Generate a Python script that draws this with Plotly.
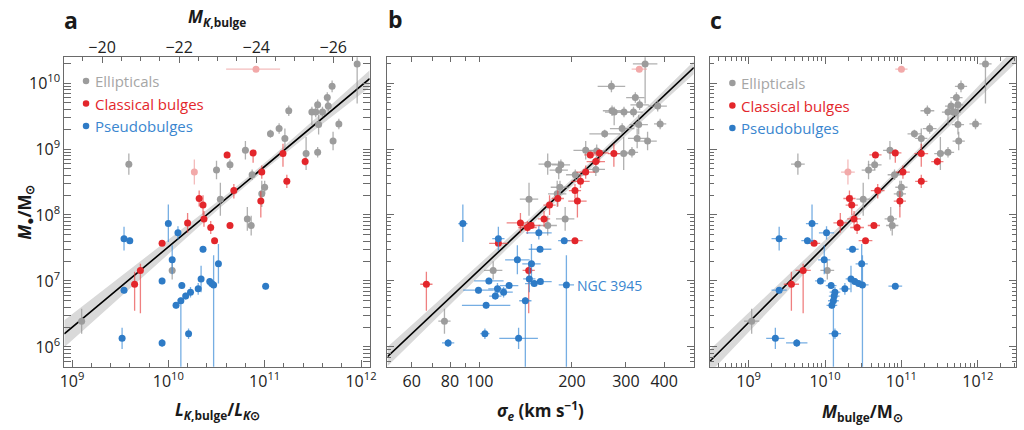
import numpy as np
import plotly.graph_objects as go

nan = float("nan")

# ---------------- data (log10 values) ----------------
# Ellipticals (gray)
ell_logM = [10.29, 9.95, 9.78, 9.67, 9.65, 9.58, 9.56, 9.56, 9.56, 9.37, 9.38, 9.31, 9.23, 9.16, 9.12,
            8.93, 8.95, 8.98, 8.77, 8.76, 8.68, 8.61, 8.42, 8.32, 8.24, 7.94, 7.84, 7.16, 6.39, 8.69, 8.97]
ell_logL = [11.96, 11.70, 11.65, 11.55, 11.66, 11.25, 11.49, 11.53, 11.60, 11.56, 11.77, 11.15, 11.06, 11.21, 11.71,
            11.43, 11.55, 10.80, 9.59, 10.64, 10.50, 10.87, 11.00, 10.97, 10.54, 10.82, 10.86, 10.04, 9.10, nan, nan]
ell_logsig = [2.540, 2.430, 2.508, 2.522, 2.581, 2.432, 2.439, 2.471, 2.502, 2.519, 2.589, 2.465, 2.408, 2.514, 2.548,
              2.470, 2.497, 2.346, 2.222, 2.265, 2.258, 2.312, 2.262, 2.253, 2.161, 2.279, 2.222, 2.044, 1.885, 2.379, 2.382]
ell_logMbul = [12.10, 11.78, 11.72, 11.74, 11.65, 11.34, 11.61, 11.68, 11.71, 11.74, 11.97, 11.37, 11.17, 11.26, 11.75,
               11.51, 11.61, 10.85, 9.645, 10.65, 10.57, 10.91, 11.00, 10.98, 10.50, 10.86, 10.88, 10.03, 9.04, nan, nan]
ell_errM_lo = [0.60, 0.09, 0.08, 0.08, 0.08, 0.08, 0.20, 0.08, 0.08, 0.15, 0.08, 0.08, 0.06, 0.15, 0.14,
               0.25, 0.08, 0.14, 0.16, 0.08, 0.14, 0.08, 0.10, 0.20, 0.25, 0.18, 0.15, 0.14, 0.19, 0.10, 0.10]
ell_errM_hi = [0.12, 0.09, 0.08, 0.08, 0.08, 0.08, 0.08, 0.08, 0.08, 0.15, 0.08, 0.08, 0.06, 0.15, 0.14,
               0.25, 0.08, 0.14, 0.16, 0.08, 0.14, 0.08, 0.10, 0.20, 0.25, 0.18, 0.15, 0.14, 0.19, 0.10, 0.10]
ell_err_sig = [0.04, 0.045, 0.03, 0.03, 0.03, 0.03, 0.03, 0.03, 0.03, 0.03, 0.02, 0.04, 0.05, 0.03, 0.03,
               0.03, 0.02, 0.04, 0.03, 0.03, 0.03, 0.03, 0.03, 0.03, 0.03, 0.03, 0.03, 0.03, 0.02, 0.03, 0.03]
ell_err_Mbul = [0.08, 0.08, 0.08, 0.07, 0.08, 0.09, 0.08, 0.07, 0.07, 0.08, 0.08, 0.09, 0.09, 0.08, 0.08,
                0.08, 0.08, 0.09, 0.09, 0.09, 0.09, 0.09, 0.08, 0.08, 0.09, 0.08, 0.08, 0.09, 0.10, nan, nan]

# Classical bulges (red)
cla_logM = [8.91, 8.94, 8.93, 8.81, 8.65, 8.51, 8.37, 8.25, 8.15, 8.21, 7.94, 7.88, 7.81, 7.84, 7.61, 7.57, 7.16, 6.95]
cla_logL = [10.61, 10.88, 11.19, 11.42, 10.97, 11.23, 10.68, 10.32, 10.36, 10.96, 10.37, 10.20, 10.44, 10.64, 10.48, 9.935, 9.71, 9.65]
cla_logsig = [2.361, 2.391, 2.438, 2.379, 2.346, 2.329, 2.311, 2.255, 2.228, 2.319, 2.210, 2.133, 2.156, 2.168, 2.311, 2.061, 2.160, 1.826]
cla_logMbul = [10.66, 10.92, 11.26, 11.47, 11.02, 11.26, 10.69, 10.32, 10.35, 10.98, 10.38, 10.20, 10.42, 10.64, 10.53, 9.857, 9.714, 9.56]
cla_errM_lo = [0.05, 0.15, 0.20, 0.06, 0.10, 0.10, 0.12, 0.12, 0.15, 0.25, 0.12, 0.15, 0.10, 0.04, 0.04, 0.04, 0.65, 0.40]
cla_errM_hi = [0.05, 0.05, 0.15, 0.06, 0.10, 0.10, 0.10, 0.12, 0.15, 0.15, 0.12, 0.15, 0.10, 0.04, 0.04, 0.04, 0.10, 0.19]
cla_err_sig = [0.02, 0.03, 0.02, 0.03, 0.03, 0.03, 0.02, 0.02, 0.02, 0.03, 0.02, 0.045, 0.03, 0.03, 0.025, 0.03, 0.02, 0.02]
cla_err_Mbul = [0.08, 0.08, 0.09, 0.08, 0.09, 0.08, 0.09, 0.08, 0.08, 0.08, 0.09, 0.09, 0.09, 0.08, 0.09, 0.08, 0.10, 0.10]

# Pseudobulges (blue)
pse_logM = [7.87, 7.73, 7.64, 7.61, 7.48, 7.32, 7.26, 7.00, 7.03, 6.86, 6.93, 6.88, 6.83, 6.77, 6.70, 6.63,
            6.99, 6.96, 6.94, 6.92, 6.20, 6.13, 6.06]
pse_logL = [10.00, 10.10, 9.54, 9.60, 10.36, 10.04, 10.52, 9.935, 10.34, 9.54, 10.14, 10.31, 10.23, 10.18, 10.13, 10.08,
            10.43, 10.45, 10.47, 11.01, 10.21, 9.52, 9.935]
pse_logsig = [1.945, 2.193, 2.061, 2.276, 2.197, 2.123, 2.169, 2.030, 2.162, 1.996, 2.096, 2.058, 2.078, 2.051, 2.149, 2.021,
              2.198, 2.178, 2.283, nan, 2.017, 2.127, 1.897]
pse_logMbul = [9.83, 10.02, 9.40, 9.77, 10.36, 9.99, 10.48, 9.94, 10.34, 9.40, 10.08, 10.26, 10.13, 10.12, 10.11, 10.09,
               10.39, 10.44, 10.49, 10.92, 10.13, 9.35, 9.63]
pse_errM_lo = [0.28, 0.10, 0.18, 0.05, 0.05, 0.22, 0.30, 0.05, 0.20, 0.05, 0.05, 0.09, 0.08, 0.05, 1.50, 0.05,
               0.05, 0.05, 1.50, 0.05, 0.08, 0.16, 0.06]
pse_errM_hi = [0.29, 0.10, 0.18, 0.05, 0.05, 0.22, 0.30, 0.05, 0.20, 0.05, 0.05, 0.09, 0.08, 0.05, 0.05, 0.05,
               0.05, 0.05, 0.45, 0.05, 0.08, 0.16, 0.06]
pse_err_sig = [0.015, 0.042, 0.02, 0.02, 0.037, 0.04, 0.03, 0.048, 0.02, 0.05, 0.03, 0.03, 0.03, 0.02, 0.02, 0.079,
               0.037, 0.03, 0.025, nan, 0.015, 0.063, 0.02]
pse_err_Mbul = [0.08, 0.10, 0.10, 0.08, 0.08, 0.08, 0.08, 0.07, 0.07, 0.10, 0.07, 0.07, 0.07, 0.07, 0.07, 0.07,
                0.07, 0.07, 0.08, 0.09, 0.08, 0.12, 0.14]

# Faded (omitted) objects (pink)
omi_logM = [10.21, 8.65]
omi_logL = [10.91, 10.27]
omi_errL_lo = [0.31, 0.0]
omi_errL_hi = [0.25, 0.0]
omi_logsig = [2.521, nan]
omi_err_sig = [0.025, nan]
omi_logMbul = [11.00, 10.30]
omi_err_Mbul = [0.08, 0.09]
omi_errM = [0.04, 0.19]

# Fits: M/1e9 = A * (x / x_piv)^B   (log10 x_piv)
fit_A = [0.544, 0.309, 0.49]
fit_B = [1.22, 4.38, 1.16]
fit_piv = [11.0, np.log10(200.0), 11.0]
# confidence band half width: sqrt(s0^2 + (k (x - x0))^2)
band_s0 = [0.05, 0.05, 0.05]
band_k = [0.10, 0.22, 0.07]
band_x0 = [10.9, 2.32, 10.9]

# Tick labels
y_tickvals = [1e6, 1e7, 1e8, 1e9, 1e10]
y_ticktext = ["10<sup>6</sup>", "10<sup>7</sup>", "10<sup>8</sup>", "10<sup>9</sup>", "10<sup>10</sup>"]
a_tickvals = [1e9, 1e10, 1e11, 1e12]
a_ticktext = ["10<sup>9</sup>", "10<sup>10</sup>", "10<sup>11</sup>", "10<sup>12</sup>"]
b_tickvals = [60, 80, 100, 200, 300, 400]
b_ticktext = ["60", "80", "100", "200", "300", "400"]
c_tickvals = [1e9, 1e10, 1e11, 1e12]
c_ticktext = ["10<sup>9</sup>", "10<sup>10</sup>", "10<sup>11</sup>", "10<sup>12</sup>"]
mk_tickvals = [-20, -22, -24, -26]
mk_ticktext = ["\u221220", "\u221222", "\u221224", "\u221226"]
MSUN_K = 3.28

# ---------------- figure ----------------
W, H = 1024, 430
FRAME = "#6a6a6a"
FONT = "Open Sans"
GRAY, GRAY_E = "#9c9c9c", "rgba(150,150,150,0.75)"
RED, RED_E = "#e3262b", "rgba(230,60,60,0.65)"
BLUE, BLUE_E = "#2e7bc6", "rgba(60,140,215,0.7)"
PINK, PINK_E = "#f2a9a9", "rgba(240,160,160,0.7)"


def fx(p):
    return p / W


def fy(p):
    return 1 - p / H


Y_RANGE = [5.70, 10.39]
ydom = [fy(366.7), fy(57.3)]
xdoms = [[fx(60), fx(369)], [fx(387), fx(697)], [fx(713), fx(1023)]]
xranges = [[8.92, 12.09], [np.log10(50.0), np.log10(500.0)], [8.49, 12.50]]
axes = [("x", "y"), ("x2", "y2"), ("x3", "y3")]

fig = go.Figure()


def asym(logv, lo, hi):
    logv = np.asarray(logv, float)
    lo = np.asarray(lo, float)
    hi = np.asarray(hi, float)
    v = 10 ** logv
    return v, 10 ** (logv + hi) - v, v - 10 ** (logv - lo)


# bands and fit lines
for i, (xa, ya) in enumerate(axes):
    lx = np.linspace(xranges[i][0], xranges[i][1], 200)
    lm = 9 + np.log10(fit_A[i]) + fit_B[i] * (lx - fit_piv[i])
    hw = np.sqrt(band_s0[i] ** 2 + (band_k[i] * (lx - band_x0[i])) ** 2)
    fig.add_trace(go.Scatter(x=10 ** lx, y=10 ** (lm - hw), mode="lines", line=dict(width=0),
                             xaxis=xa, yaxis=ya, hoverinfo="skip", showlegend=False))
    fig.add_trace(go.Scatter(x=10 ** lx, y=10 ** (lm + hw), mode="lines", line=dict(width=0),
                             fill="tonexty", fillcolor="#d9d9d9",
                             xaxis=xa, yaxis=ya, hoverinfo="skip", showlegend=False))
    fig.add_trace(go.Scatter(x=10 ** lx, y=10 ** lm, mode="lines", line=dict(color="black", width=1.6),
                             xaxis=xa, yaxis=ya, hoverinfo="skip", showlegend=False))


def add_points(logx, ex_lo, ex_hi, show_ex, logy, ey_lo, ey_hi, color, ecolor, xa, ya):
    x, xp, xm = asym(logx, ex_lo, ex_hi)
    y, yp, ym = asym(logy, ey_lo, ey_hi)
    fig.add_trace(go.Scatter(
        x=x, y=y, mode="markers", xaxis=xa, yaxis=ya,
        marker=dict(size=7, color=color, line=dict(width=0)),
        error_x=dict(type="data", symmetric=False, array=xp, arrayminus=xm, color=ecolor,
                     thickness=1.3, width=0, visible=show_ex),
        error_y=dict(type="data", symmetric=False, array=yp, arrayminus=ym, color=ecolor,
                     thickness=1.3, width=0, visible=True),
        hoverinfo="skip", showlegend=False))


zeros_e = [0.0] * len(ell_logM)
zeros_c = [0.0] * len(cla_logM)
zeros_p = [0.0] * len(pse_logM)

# panel a
add_points(ell_logL, zeros_e, zeros_e, False, ell_logM, ell_errM_lo, ell_errM_hi, GRAY, GRAY_E, "x", "y")
add_points(omi_logL, omi_errL_lo, omi_errL_hi, True, omi_logM, omi_errM, omi_errM, PINK, PINK_E, "x", "y")
add_points(cla_logL, zeros_c, zeros_c, False, cla_logM, cla_errM_lo, cla_errM_hi, RED, RED_E, "x", "y")
add_points(pse_logL, zeros_p, zeros_p, False, pse_logM, pse_errM_lo, pse_errM_hi, BLUE, BLUE_E, "x", "y")
# panel b
add_points(ell_logsig, ell_err_sig, ell_err_sig, True, ell_logM, ell_errM_lo, ell_errM_hi, GRAY, GRAY_E, "x2", "y2")
add_points(omi_logsig, omi_err_sig, omi_err_sig, True, omi_logM, omi_errM, omi_errM, PINK, PINK_E, "x2", "y2")
add_points(cla_logsig, cla_err_sig, cla_err_sig, True, cla_logM, cla_errM_lo, cla_errM_hi, RED, RED_E, "x2", "y2")
add_points(pse_logsig, pse_err_sig, pse_err_sig, True, pse_logM, pse_errM_lo, pse_errM_hi, BLUE, BLUE_E, "x2", "y2")
# panel c
add_points(ell_logMbul, ell_err_Mbul, ell_err_Mbul, True, ell_logM, ell_errM_lo, ell_errM_hi, GRAY, GRAY_E, "x3", "y3")
add_points(omi_logMbul, omi_err_Mbul, omi_err_Mbul, True, omi_logM, omi_errM, omi_errM, PINK, PINK_E, "x3", "y3")
add_points(cla_logMbul, cla_err_Mbul, cla_err_Mbul, True, cla_logM, cla_errM_lo, cla_errM_hi, RED, RED_E, "x3", "y3")
add_points(pse_logMbul, pse_err_Mbul, pse_err_Mbul, True, pse_logM, pse_errM_lo, pse_errM_hi, BLUE, BLUE_E, "x3", "y3")

# invisible trace to carry the top magnitude axis
fig.add_trace(go.Scatter(x=[-22], y=[1e8], xaxis="x4", yaxis="y", mode="markers",
                         marker=dict(opacity=0), hoverinfo="skip", showlegend=False))

tickfont = dict(family=FONT, size=16, color="#222222")
base = dict(showline=True, linecolor=FRAME, linewidth=1, ticks="inside", tickcolor=FRAME,
            showgrid=False, zeroline=False, tickfont=tickfont)

y_minor = [m * 10.0 ** d for d in range(5, 11) for m in range(2, 10)]
a_minor = [10 ** (8.8 + 0.2 * k) for k in range(18)]
b_minor = [50, 70, 90, 500]
c_minor = [m * 10.0 ** d for d in range(8, 13) for m in range(2, 10)]
mk_minor = [-19.5 - 0.5 * k for k in range(15)]

minor_style = dict(ticks="inside", ticklen=4, tickcolor=FRAME, showgrid=False, tickmode="array")

layout_axes = {}
for i, (xa, ya) in enumerate(axes):
    yname = "yaxis" if i == 0 else f"yaxis{i + 1}"
    layout_axes[yname] = dict(base, type="log", range=Y_RANGE, domain=ydom, anchor=xa,
                              tickmode="array", tickvals=y_tickvals, ticktext=y_ticktext,
                              ticklen=7, mirror="allticks", showticklabels=(i == 0),
                              minor=dict(minor_style, tickvals=y_minor))

layout_axes["xaxis"] = dict(base, type="log", range=xranges[0], domain=xdoms[0], anchor="y",
                            tickmode="array", tickvals=a_tickvals, ticktext=a_ticktext, ticklen=7,
                            mirror=True, minor=dict(minor_style, tickvals=a_minor))
layout_axes["xaxis2"] = dict(base, type="log", range=xranges[1], domain=xdoms[1], anchor="y2",
                             tickmode="array", tickvals=b_tickvals, ticktext=b_ticktext, ticklen=5,
                             mirror="allticks", minor=dict(minor_style, tickvals=b_minor))
layout_axes["xaxis3"] = dict(base, type="log", range=xranges[2], domain=xdoms[2], anchor="y3",
                             tickmode="array", tickvals=c_tickvals, ticktext=c_ticktext, ticklen=7,
                             mirror="allticks", minor=dict(minor_style, tickvals=c_minor))
layout_axes["xaxis4"] = dict(base, showline=False, overlaying="x", side="top", anchor="y",
                             range=[MSUN_K - 2.5 * xranges[0][0], MSUN_K - 2.5 * xranges[0][1]],
                             tickmode="array", tickvals=mk_tickvals, ticktext=mk_ticktext, ticklen=6,
                             minor=dict(minor_style, tickvals=mk_minor))

ann = []
TXT = "#1a1a1a"


def add_text(text, x, y, size, color=TXT, xanchor="center", angle=0, yanchor="middle"):
    ann.append(dict(text=text, x=fx(x), y=fy(y), xref="paper", yref="paper", showarrow=False,
                    xanchor=xanchor, yanchor=yanchor, textangle=angle,
                    font=dict(family=FONT, size=size, color=color)))


add_text("<b>a</b>", 67, 2, 23, yanchor="top")
add_text("<b>b</b>", 395, 1, 23, yanchor="top")
add_text("<b>c</b>", 719, 2, 23, yanchor="top")
add_text("<b><i>M</i><sub><i>K</i>,bulge</sub></b>", 215, 18, 17)
add_text("<b><i>L</i><sub><i>K</i>,bulge</sub>/<i>L</i><sub><i>K</i>\u2299</sub></b>", 215, 410, 17)
add_text("<b><i>\u03c3</i><sub><i>e</i></sub> (km s<sup>\u22121</sup>)</b>", 542, 410, 17)
add_text("<b><i>M</i><sub>bulge</sub>/M<sub>\u2299</sub></b>", 868, 412, 17)
add_text("<b><i>M</i><sub>\u25cf</sub>/M<sub>\u2299</sub></b>", 20, 212, 17, angle=-90)
add_text("NGC 3945", 577, 285, 14, color="#3a86cf", xanchor="left")

shapes = []
legend_items = [("Ellipticals", "#a6a6a6", GRAY), ("Classical bulges", "#e3262b", RED),
                ("Pseudobulges", "#3a86cf", BLUE)]
for (bx, tx, y0) in [(82, 89, 81), (736, 743, 83)]:
    for j, (lab, tcol, mcol) in enumerate(legend_items):
        yy = y0 + 22.5 * j
        add_text(lab, tx, yy, 15, color=tcol, xanchor="left")
        shapes.append(dict(type="circle", xref="paper", yref="paper",
                           x0=fx(bx - 3.3), x1=fx(bx + 3.3), y0=fy(yy + 3.3), y1=fy(yy - 3.3),
                           fillcolor=mcol, line=dict(width=0)))

fig.update_layout(width=W, height=H, margin=dict(l=0, r=0, t=0, b=0),
                  paper_bgcolor="white", plot_bgcolor="white",
                  font=dict(family=FONT, color=TXT), annotations=ann, shapes=shapes,
                  showlegend=False, **layout_axes)

fig.write_html("out.html")
